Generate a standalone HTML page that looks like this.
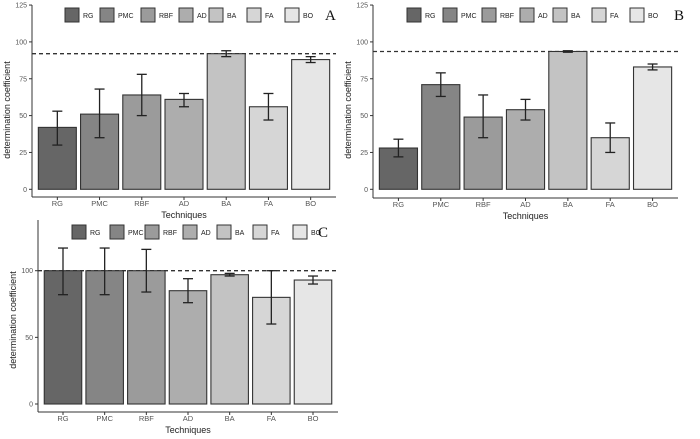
<!DOCTYPE html>
<html><head><meta charset="utf-8"><style>
html,body{margin:0;padding:0;background:#fff;}
svg{display:block;font-family:"Liberation Sans",sans-serif;}
</style></head><body>
<svg id="fig" width="700" height="439" viewBox="0 0 700 439"></svg>
<script>
const categories = ["RG","PMC","RBF","AD","BA","FA","BO"];
const colors = ["#666666","#858585","#9b9b9b","#adadad","#c3c3c3","#d6d6d6","#e6e6e6"];
const valuesA = [42,51,64,61,92,56,88];
const lowA = [30,35,50,56,90,47,86];
const highA = [53,68,78,65,94,65,90];
const refA = 92;
const valuesB = [28,71,49,54,93.5,35,83];
const lowB = [22,63,35,47,93,25,81];
const highB = [34,79,64,61,94,45,85];
const refB = 93.5;
const valuesC = [100,100,100,85,97,80,93];
const lowC = [82,82,84,76,96,60,90];
const highC = [117,117,116,94,98,100,96];
const refC = 100;
const ticksAB = [0,25,50,75,100,125];
const ticksC = [0,50,100];

const NS="http://www.w3.org/2000/svg";
const svg=document.getElementById('fig');
function mk(tag,attrs,parent,txt){const e=document.createElementNS(NS,tag);for(const k in attrs)e.setAttribute(k,attrs[k]);if(txt!==undefined)e.textContent=txt;(parent||svg).appendChild(e);return e;}

function panel(p){
  const g=mk('g',{});
  
  
  if(p.bg) mk('rect',{x:p.bgx,y:p.bgy,width:p.bgw,height:p.bgh,fill:'#fff'},g);
  const y=v=>p.y0-v*p.ppu;
  const unit=(p.x1-p.x0)/7.2;
  const xc=i=>p.x0+(0.6+i)*unit;
  const bw=0.9*unit;
  const ref=mk('line',{x1:p.x0,x2:p.x1,y1:y(p.ref),y2:y(p.ref),stroke:'#333','stroke-width':1.3,'stroke-dasharray':'4,3'},g);
  
  
  categories.forEach((c,i)=>{
    const r=mk('rect',{x:xc(i)-bw/2,y:y(p.vals[i]),width:bw,height:y(0)-y(p.vals[i]),fill:colors[i],stroke:'#333','stroke-width':1.1},g);
    
    
    const eb=mk('g',{stroke:'#222','stroke-width':1.3},g);
    
    
    mk('line',{x1:xc(i),x2:xc(i),y1:y(p.lo[i]),y2:y(p.hi[i])},eb);
    mk('line',{x1:xc(i)-5,x2:xc(i)+5,y1:y(p.lo[i]),y2:y(p.lo[i])},eb);
    mk('line',{x1:xc(i)-5,x2:xc(i)+5,y1:y(p.hi[i]),y2:y(p.hi[i])},eb);
    const t=mk('text',{x:xc(i),y:p.xaxisY+9,'font-size':7.5,fill:'#555','text-anchor':'middle'},g,c);
    
    
    const lk=mk('rect',{x:p.keys[i],y:p.legY-7,width:14,height:14,fill:colors[i],stroke:'#333','stroke-width':1},g);
    
    
    const lt=mk('text',{x:p.keys[i]+18,y:p.legY+3,'font-size':7,fill:'#222'},g,c);
    
    
  });
  mk('line',{x1:p.x0,x2:p.x0,y1:p.ytop,y2:p.xaxisY,stroke:'#333','stroke-width':1},g);
  mk('line',{x1:p.x0,x2:p.x1,y1:p.xaxisY,y2:p.xaxisY,stroke:'#333','stroke-width':1},g);
  p.ticks.forEach(t=>{
    mk('line',{x1:p.x0-3,x2:p.x0,y1:y(t),y2:y(t),stroke:'#333'},g);
    const tl=mk('text',{x:p.x0-5,y:y(t)+2.5,'font-size':7,fill:'#555','text-anchor':'end'},g,t);
    
    
  });
  categories.forEach((c,i)=>mk('line',{x1:xc(i),x2:xc(i),y1:p.xaxisY,y2:p.xaxisY+3,stroke:'#333'},g));
  const xt=mk('text',{x:(p.x0+p.x1)/2,y:p.xaxisY+21,'font-size':9,fill:'#222','text-anchor':'middle'},g,'Techniques');
  
  
  const yt=mk('text',{x:0,y:0,'font-size':9,fill:'#222','text-anchor':'middle',transform:`translate(${p.x0-22},${p.ymid}) rotate(-90)`},g,'determination coefficient');
  
  
  const pl=mk('text',{x:p.labX,y:p.legY+5,'font-size':15,fill:'#111','font-family':'Liberation Serif,serif'},g,p.label);
  
  
}

panel({label:'A',vals:valuesA,lo:lowA,hi:highA,ref:refA,ticks:ticksAB,x0:32,x1:336,y0:189.3,ppu:1.474,
  ytop:5,xaxisY:197,legY:15,keys:[65,100,141,179,209,247,285],labX:325,ymid:110});
panel({label:'B',vals:valuesB,lo:lowB,hi:highB,ref:refB,ticks:ticksAB,x0:373,x1:678,y0:189.3,ppu:1.474,
  ytop:5,xaxisY:198,legY:15,keys:[407,443,482,520,553,592,630],labX:674,ymid:110});
panel({label:'C',vals:valuesC,lo:lowC,hi:highC,ref:refC,ticks:ticksC,x0:38,x1:338,y0:404,ppu:1.333,
  ytop:220,xaxisY:412,legY:232,keys:[72,110,145,183,217,253,293],labX:318,ymid:320,
  bg:true,bgx:20,bgy:222,bgw:330,bgh:217});
</script>
</body></html>
